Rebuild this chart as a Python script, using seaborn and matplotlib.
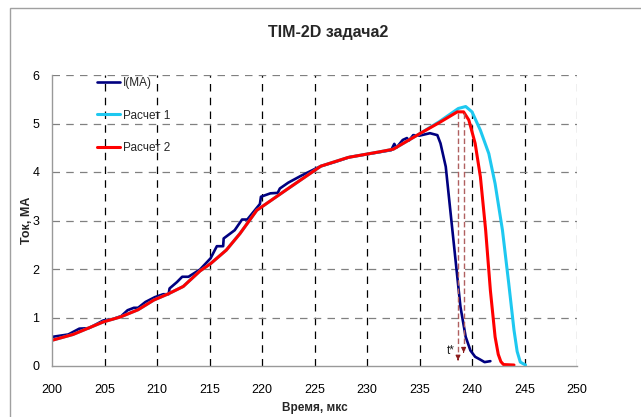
import numpy as np
import pandas as pd
import matplotlib
matplotlib.use('Agg')
import matplotlib.pyplot as plt
import seaborn as sns
from matplotlib.patches import Rectangle

# ---------- data ----------
t_meas = [200.0, 201.55, 202.6, 203.5, 204.9, 205.7, 206.6, 207.2, 207.8, 208.2,
          208.9, 209.8, 210.6, 211.1, 211.2, 211.9, 212.4, 213.0, 214.1, 215.1,
          215.7, 216.3, 216.35, 217.4, 218.1, 218.6, 219.2, 219.8, 219.9, 220.8,
          221.5, 221.7, 222.5, 223.7, 225.2, 225.6, 227.0, 228.4, 230.1, 232.3,
          232.6, 232.8, 233.4, 233.8, 234.0, 234.4, 235.0, 236.0, 236.7, 237.0,
          237.5, 237.9, 238.4, 238.9, 239.4, 239.85, 240.3, 240.8, 241.2, 241.75]
i_meas = [0.60, 0.65, 0.77, 0.78, 0.94, 0.96, 1.03, 1.15, 1.20, 1.20,
          1.32, 1.42, 1.48, 1.48, 1.60, 1.73, 1.84, 1.84, 1.99, 2.22,
          2.47, 2.47, 2.63, 2.80, 3.02, 3.02, 3.18, 3.34, 3.49, 3.56,
          3.57, 3.66, 3.78, 3.92, 4.08, 4.12, 4.21, 4.31, 4.37, 4.45,
          4.58, 4.50, 4.66, 4.70, 4.65, 4.76, 4.75, 4.80, 4.76, 4.59,
          4.11, 3.28, 2.25, 1.22, 0.60, 0.32, 0.19, 0.13, 0.08, 0.10]

t_calc2 = [200.0, 202.0, 204.9, 206.5, 208.2, 209.7, 211.1, 212.5, 214.1, 215.1,
           216.6, 217.9, 219.5, 221.1, 222.7, 225.6, 228.2, 231.3, 232.5, 235.1,
           236.9, 238.6, 239.2, 239.7, 240.3, 240.8, 241.3, 241.75, 242.2, 242.5,
           242.75, 243.0, 244.0]
i_calc2 = [0.53, 0.65, 0.91, 1.01, 1.16, 1.36, 1.49, 1.64, 1.96, 2.11,
           2.39, 2.73, 3.21, 3.45, 3.69, 4.12, 4.30, 4.42, 4.47, 4.80,
           5.02, 5.24, 5.24, 5.07, 4.59, 3.90, 2.80, 1.56, 0.60, 0.24,
           0.09, 0.03, 0.02]

t_calc1 = [200.0, 202.0, 204.9, 206.5, 208.2, 209.7, 211.1, 212.5, 214.1, 215.1,
           216.6, 217.9, 219.5, 221.1, 222.7, 225.6, 228.2, 231.3, 232.5, 235.1,
           236.9, 238.7, 239.4, 240.0, 240.8, 241.6, 242.2, 242.9, 243.5, 244.0,
           244.3, 244.6, 245.1]
i_calc1 = [0.53, 0.65, 0.91, 1.01, 1.16, 1.36, 1.49, 1.64, 1.96, 2.11,
           2.39, 2.73, 3.21, 3.45, 3.69, 4.12, 4.30, 4.42, 4.47, 4.80,
           5.04, 5.31, 5.35, 5.24, 4.86, 4.38, 3.76, 2.80, 1.70, 0.74,
           0.30, 0.08, 0.02]

series_names = ['I(MA)', 'Расчет 1', 'Расчет 2']
series_colors = ['#000080', '#1ec8f0', '#ff0000']

# t* markers: arrow x, top, bottom
arrow_x = [238.67, 239.2]
arrow_top = [5.21, 5.21]
arrow_bottom = [0.06, 0.22]

x_ticks = [200, 205, 210, 215, 220, 225, 230, 235, 240, 245, 250]
y_ticks = [0, 1, 2, 3, 4, 5, 6]

# ---------- plot ----------
sns.set_style('white')
plt.rcParams['font.family'] = ['Liberation Sans', 'DejaVu Sans']

fig = plt.figure(figsize=(6.41, 4.17), dpi=100)
ax = fig.add_axes([52 / 641, 1 - 366 / 417, 525 / 641, 291 / 417])

# grid
for xv in x_ticks[1:-1]:
    ax.axvline(xv, color='black', lw=0.9, ls=(0, (6, 5)), zorder=0)
ax.axvline(x_ticks[-1], color='#808080', lw=0.9, ls=(0, (6, 5)), zorder=0)
for yv in y_ticks[1:]:
    ax.axhline(yv, color='#808080', lw=0.9, ls=(0, (6, 5)), zorder=0)

data = [(t_meas, i_meas, 1.9), (t_calc1, i_calc1, 2.2), (t_calc2, i_calc2, 2.2)]
for (tx, iy, lw), name, col in zip(data, series_names, series_colors):
    sns.lineplot(x=tx, y=iy, ax=ax, color=col, lw=lw, label=name,
                 sort=False, estimator=None)

for ax_x, top, bot in zip(arrow_x, arrow_top, arrow_bottom):
    ax.plot([ax_x, ax_x], [top, bot + 0.12], color='#b06060', lw=1.0,
            ls=(0, (4, 2)), zorder=5)
    ax.annotate('', xy=(ax_x, bot), xytext=(ax_x, bot + 0.13),
                arrowprops=dict(arrowstyle='-|>', color='#8b1a1a', lw=0.8,
                                mutation_scale=7), zorder=6)
ax.text(238.35, 0.3, 't*', fontsize=8.5, ha='right', va='center', color='#222222')

ax.set_xlim(200, 250)
ax.set_ylim(0, 6)
ax.set_xticks(x_ticks)
ax.set_yticks(y_ticks)
ax.tick_params(axis='both', labelsize=9, colors='black', length=4,
               direction='inout', color='#888888', width=0.8)
ax.tick_params(axis='x', pad=11)
ax.tick_params(axis='y', direction='out', pad=5)
for s in ['top', 'right']:
    ax.spines[s].set_visible(False)
for s in ['left', 'bottom']:
    ax.spines[s].set_color('#999999')
    ax.spines[s].set_linewidth(1.0)

ax.set_xlabel('Время, мкс', fontsize=8.5, fontweight='bold', labelpad=4)
ax.set_ylabel('Ток, МА', fontsize=9, fontweight='bold', labelpad=0)
ax.set_title('TIM-2D задача2', fontsize=11.5, fontweight='bold', pad=27,
             x=0.526)

leg = ax.legend(loc='upper left', bbox_to_anchor=(0.065, 1.03), frameon=False,
                fontsize=8.5, handlelength=2.0, handletextpad=0.2,
                labelspacing=1.75)

# outer chart border
fig.add_artist(Rectangle((10 / 641, -0.1), 1.0, 1.1 - 8 / 417, fill=False,
                         edgecolor='#a0a0a0', lw=1.0, transform=fig.transFigure))

fig.savefig('out.png', dpi=100)
